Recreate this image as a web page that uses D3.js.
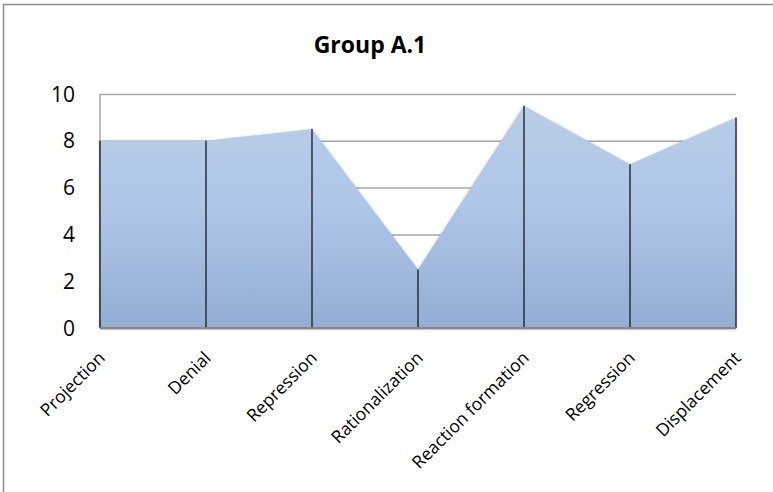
<!DOCTYPE html>
<html>
<head>
<meta charset="utf-8">
<script src="https://cdn.jsdelivr.net/npm/d3@7"></script>
<style>
  body { margin: 0; background: #fff; }
  text { font-family: "Open Sans", Lato, sans-serif; fill: #000; }
</style>
</head>
<body>
<svg id="chart"></svg>
<script>
const categories = ['Projection', 'Denial', 'Repression', 'Rationalization', 'Reaction formation', 'Regression', 'Displacement'];
const values = [8, 8, 8.5, 2.5, 9.5, 7, 9];
const yTicks = [0, 2, 4, 6, 8, 10];

const width = 773, height = 492;
const margin = {top: 94, right: 37, bottom: 164, left: 100};
const chartW = width - margin.left - margin.right;
const chartH = height - margin.top - margin.bottom;

const svg = d3.select('#chart')
    .attr('width', width)
    .attr('height', height);

// outer border (only top/left visible in the original)
svg.append('rect')
    .attr('x', 3.5).attr('y', 4.5)
    .attr('width', 820).attr('height', 540)
    .attr('fill', 'none')
    .attr('stroke', '#8c8c8c')
    .attr('stroke-width', 1.5);

svg.append('text')
    .attr('x', 370)
    .attr('y', 53)
    .attr('text-anchor', 'middle')
    .style('font-size', '23px')
    .style('font-weight', '700')
    .text('Group A.1');

const defs = svg.append('defs');
const grad = defs.append('linearGradient')
    .attr('id', 'areaGrad')
    .attr('x1', 0).attr('y1', 0).attr('x2', 0).attr('y2', 1);
grad.append('stop').attr('offset', '0%').attr('stop-color', '#b9cde7');
grad.append('stop').attr('offset', '45%').attr('stop-color', '#aec6e8');
grad.append('stop').attr('offset', '100%').attr('stop-color', '#93add4');

const shadow = defs.append('filter').attr('id', 'shadow')
    .attr('x', '-5%').attr('y', '-5%').attr('width', '110%').attr('height', '110%');
shadow.append('feDropShadow')
    .attr('dx', 0).attr('dy', 1)
    .attr('stdDeviation', 1.6)
    .attr('flood-color', '#000')
    .attr('flood-opacity', 0.35);

const chart = svg.append('g')
    .attr('transform', `translate(${margin.left},${margin.top})`);

const xScale = d3.scalePoint()
    .domain(categories)
    .range([0, chartW]);

const yScale = d3.scaleLinear()
    .domain([0, 10])
    .range([chartH, 0]);

// gridlines
const yAxis = d3.axisLeft(yScale)
    .tickValues(yTicks)
    .tickSize(-chartW)
    .tickFormat('');
chart.append('g')
    .call(yAxis)
    .call(g => g.select('.domain').remove())
    .call(g => g.selectAll('line').attr('stroke', '#a6a6a6').attr('stroke-width', 1.5));

// left axis line
chart.append('line')
    .attr('x1', 0).attr('x2', 0)
    .attr('y1', 0).attr('y2', chartH)
    .attr('stroke', '#a6a6a6')
    .attr('stroke-width', 1.5);

const data = categories.map((c, i) => ({cat: c, value: values[i]}));

const area = d3.area()
    .x(d => xScale(d.cat))
    .y0(yScale(0))
    .y1(d => yScale(d.value));

chart.append('path')
    .datum(data)
    .attr('d', area)
    .attr('fill', 'url(#areaGrad)')
    .attr('filter', 'url(#shadow)');

// drop lines
chart.selectAll('.drop')
    .data(data)
    .enter().append('line')
    .attr('class', 'drop')
    .attr('x1', d => xScale(d.cat))
    .attr('x2', d => xScale(d.cat))
    .attr('y1', d => yScale(d.value))
    .attr('y2', yScale(0))
    .attr('stroke', '#1a1a1a')
    .attr('stroke-width', 1.3);

// bottom axis line
chart.append('line')
    .attr('x1', 0).attr('x2', chartW)
    .attr('y1', chartH).attr('y2', chartH)
    .attr('stroke', '#868686')
    .attr('stroke-width', 2);

// y tick labels
chart.selectAll('.ylab')
    .data(yTicks)
    .enter().append('text')
    .attr('class', 'ylab')
    .attr('x', -25)
    .attr('y', d => yScale(d))
    .attr('dy', '0.36em')
    .attr('text-anchor', 'end')
    .style('font-size', '21px')
    .text(d => d);

// category labels
chart.selectAll('.xlab')
    .data(categories)
    .enter().append('text')
    .attr('class', 'xlab')
    .attr('text-anchor', 'end')
    .attr('transform', d => `translate(${xScale(d) + 6},${chartH + 31}) rotate(-45)`)
    .style('font-size', '17.5px')
    .text(d => d);
</script>
</body>
</html>
